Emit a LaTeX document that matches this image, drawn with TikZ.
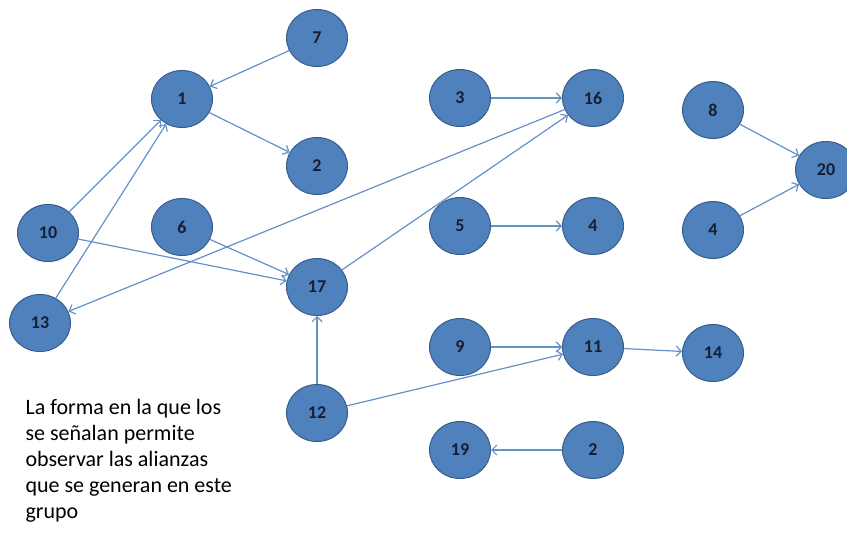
\documentclass[tikz,border=0pt]{standalone}
\usepackage{fontspec}
\setmainfont{Carlito}
\usepackage{color}
\definecolor{blue1}{RGB}{79, 129, 189}
\definecolor{blue2}{RGB}{56, 93, 138}
\definecolor{blue3}{RGB}{100, 145, 200}
\definecolor{ink}{RGB}{22, 30, 52}
\usetikzlibrary{arrows.meta}
\usetikzlibrary{shapes.geometric}
\tikzstyle{actor} = [ellipse,fill=blue1,draw=blue2,line width=1pt,text=ink,font=\bfseries\fontsize{18}{20}\selectfont,inner sep=0pt,minimum width=61pt,minimum height=57pt]
\tikzstyle{arrow_link} = [->, draw=blue3, line width=1.2pt]

\begin{document}
\begin{tikzpicture}[x=1pt,y=-1pt,> = {Straight Barb[length=5pt,width=10pt]}]
    \useasboundingbox (0,0) rectangle (847,538);

      \node[actor] (7)  at (317,38)  {7};
      \node[actor] (1)  at (182,99)  {1};
      \node[actor] (2)  at (317,166) {2};
      \node[actor] (10) at (48,233)  {10};
      \node[actor] (6)  at (182,227) {6};
      \node[actor] (17) at (317,287) {17};
      \node[actor] (13) at (40,323)  {13};
      \node[actor] (12) at (317,413) {12};

      \node[actor] (3)  at (460,98)  {3};
      \node[actor] (16) at (593,98)  {16};
      \node[actor] (5)  at (460,226) {5};
      \node[actor] (4)  at (593,226) {4};
      \node[actor] (9)  at (460,347) {9};
      \node[actor] (11) at (593,347) {11};
      \node[actor] (19) at (460,450) {19};
      \node[actor] (2b) at (593,450) {2};

      \node[actor] (8)  at (713,110) {8};
      \node[actor] (4b) at (713,230) {4};
      \node[actor] (20) at (826,170) {20};
      \node[actor] (14) at (713,353) {14};

      \node[anchor=north west,align=left,text=black,
            font=\fontsize{22}{26}\selectfont] (note) at (22,396)
        {La forma en la que los\\se señalan permite\\observar las alianzas\\que se generan en este\\grupo};

      \foreach \a/\b in {7/1, 1/2, 10/1, 13/1, 10/17, 6/17, 17/16, 16/13,
                         12/17, 12/11, 3/16, 5/4, 9/11, 11/14, 2b/19, 8/20, 4b/20}
        \draw[arrow_link] (\a) -- (\b);
    \end{tikzpicture}
\end{document}
